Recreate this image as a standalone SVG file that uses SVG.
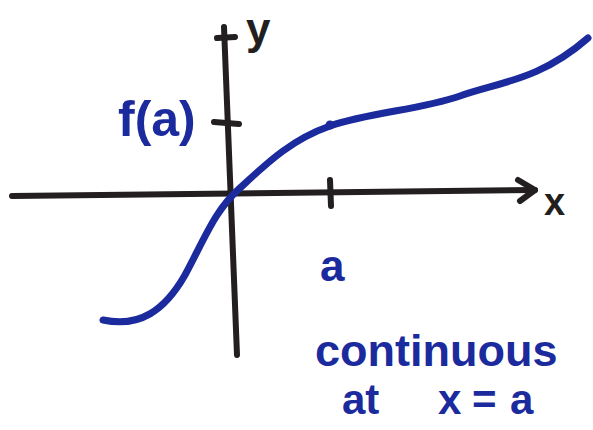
<svg xmlns="http://www.w3.org/2000/svg" width="593" height="430" viewBox="0 0 593 430">
<style>
.ax{stroke:#231f20;stroke-width:6;fill:none;stroke-linecap:round;stroke-linejoin:round}
.bl{stroke:#1b2a9c;stroke-width:7;fill:none;stroke-linecap:round;stroke-linejoin:round}
.t{font-family:"Liberation Sans",Arial,sans-serif;font-weight:bold;fill:#1b2a9c}
.tk{font-family:"Liberation Sans",Arial,sans-serif;font-weight:bold;fill:#231f20}
</style>
<rect width="593" height="430" fill="#fff"/>
<g id="connectors">
<path id="x-axis" class="ax" d="M12,196 C120,196 300,194 535,190"/>
<path id="x-arrow" class="ax" d="M518,180 L535,190 L520,201"/>
<path id="y-axis" class="ax" d="M224,27 C228,140 233,250 237,355"/>
<path id="y-arrow" class="ax" d="M217,38 L235,37"/>
<path id="a-tick" class="ax" d="M330,180 L331,206"/>
<path id="fa-tick" class="ax" d="M214,122 L239,124"/>
<path id="curve" class="bl" d="M103,320 C140,328 165,310 185,275 C205,238 215,210 240,188 C265,165 290,140 330,126 C370,112 420,110 460,96 C500,82 540,80 588,38"/>
<circle cx="330" cy="125" r="4.5" fill="#1b2a9c"/>
</g>
<g id="label-y"><text class="tk" x="246" y="44" font-size="44">y</text></g>
<g id="label-fa"><text class="t" x="118" y="136" font-size="50">f(a)</text></g>
<g id="label-x"><text class="tk" x="544" y="215" font-size="38">x</text></g>
<g id="label-a"><text class="t" x="320" y="281" font-size="44">a</text></g>
<g id="caption">
<text class="t" x="315" y="366" font-size="45">continuous</text>
<text class="t" y="414" font-size="42"><tspan x="342">at</tspan><tspan x="438">x</tspan><tspan x="472">=</tspan><tspan x="510">a</tspan></text>
</g>
</svg>
